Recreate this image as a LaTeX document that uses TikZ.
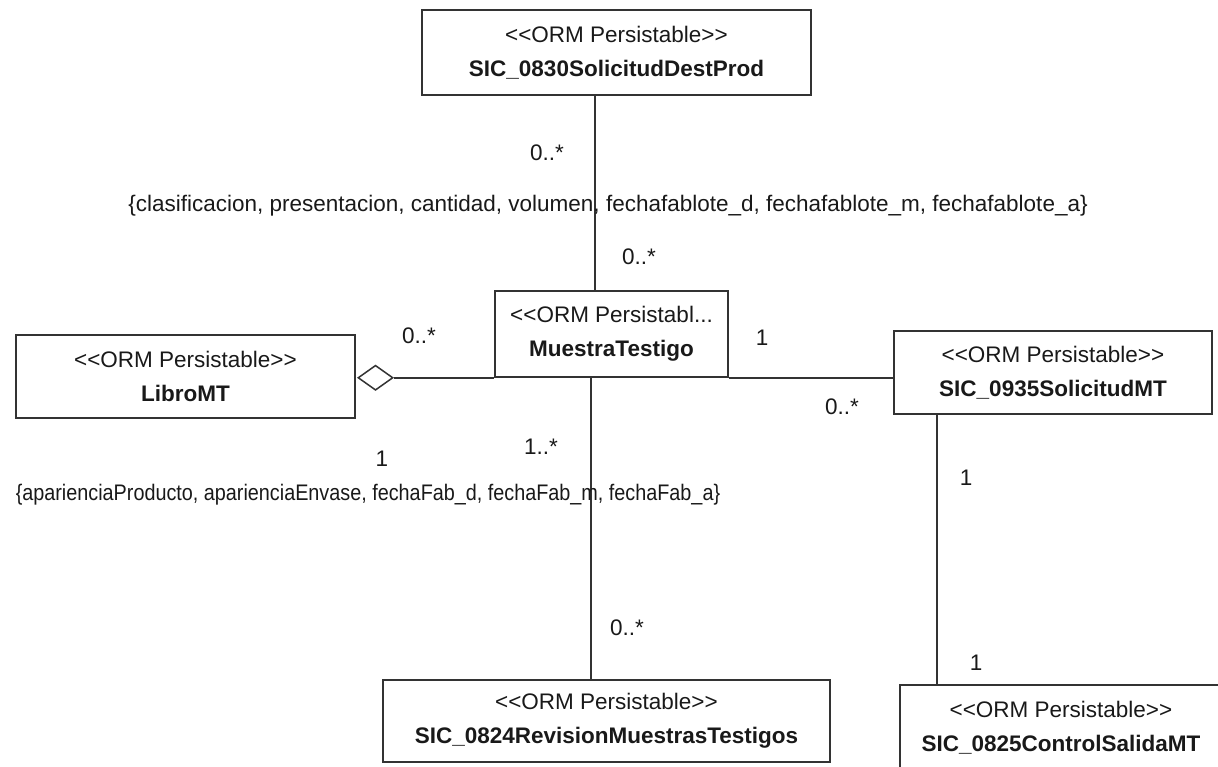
\documentclass[tikz,border=0pt]{standalone}
\usepackage{fontspec}
\usepackage{graphicx}
\setmainfont{Liberation Sans}
\usetikzlibrary{shapes.geometric}

\newcommand{\stereo}[1]{<{}<#1>{}>}

\begin{document}
\begin{tikzpicture}[x=1pt,y=-1pt,
  classbox/.style={draw=black!80, line width=1.5pt, rectangle, inner sep=0pt,
    align=center, text=black!90, font=\fontsize{22.5}{34}\selectfont},
  mult/.style={inner sep=0pt, text=black!90, font=\fontsize{22.5}{27}\selectfont},
  assoc/.style={draw=black!80, line width=1.5pt},
  aggr/.style={diamond, draw=black!80, line width=1.5pt, fill=white, inner sep=0pt,
    minimum width=35pt, minimum height=25pt}]
\useasboundingbox (0,0) rectangle (1218,767);
\clip (0,0) rectangle (1218,767);

% classes
\node[classbox, minimum width=389pt, minimum height=85pt] (T) at (616.5,52.5)
  {\stereo{ORM Persistable}\\ \textbf{SIC\_0830SolicitudDestProd}};
\node[classbox, minimum width=233pt, minimum height=86pt] (M) at (611.5,334)
  {<{}<ORM Persistabl...\\ \textbf{MuestraTestigo}};
\node[classbox, minimum width=339pt, minimum height=83pt] (L) at (185.5,376.5)
  {\stereo{ORM Persistable}\\ \textbf{LibroMT}};
\node[classbox, minimum width=318pt, minimum height=83pt] (S) at (1053,372.5)
  {\stereo{ORM Persistable}\\ \textbf{SIC\_0935SolicitudMT}};
\node[classbox, minimum width=447pt, minimum height=82pt] (R) at (606.5,721)
  {\stereo{ORM Persistable}\\ \textbf{SIC\_0824RevisionMuestrasTestigos}};
\node[classbox, minimum width=322pt, minimum height=86pt] (C) at (1061,728)
  {\stereo{ORM Persistable}\\ \textbf{SIC\_0825ControlSalidaMT}};

% aggregation diamond on LibroMT
\node[aggr, anchor=west] (D) at ([xshift=1.5pt]L.east |- M.south) {};

% associations
\draw[assoc] (595,0 |- T.south) -- (595,0 |- M.north);
\draw[assoc] (591,0 |- M.south) -- (591,0 |- R.north);
\draw[assoc] (D.east) -- (M.south west);
\draw[assoc] (M.south east) -- (S.west |- M.south);
\draw[assoc] (937,0 |- S.south) -- (937,0 |- C.north);

% multiplicities
\node[mult] (m1) at (547,153) {0..*};
\node[mult] (m2) at (639,257) {0..*};
\node[mult] (m3) at (419,336) {0..*};
\node[mult] (m4) at (762,338) {1};
\node[mult] (m5) at (842,407) {0..*};
\node[mult] (m6) at (382,459) {1};
\node[mult] (m7) at (541,447) {1..*};
\node[mult] (m8) at (627,628) {0..*};
\node[mult] (m9) at (966,478) {1};
\node[mult] (m10) at (976,663) {1};

% constraints
\node[mult] (k1) at (608,206)
  {\{clasificacion, presentacion, cantidad, volumen, fechafablote\_d, fechafablote\_m, fechafablote\_a\}};
\node[mult] (k2) at (368,495)
  {\scalebox{0.88}[1]{\{aparienciaProducto, aparienciaEnvase, fechaFab\_d, fechaFab\_m, fechaFab\_a\}}};
\end{tikzpicture}
\end{document}
